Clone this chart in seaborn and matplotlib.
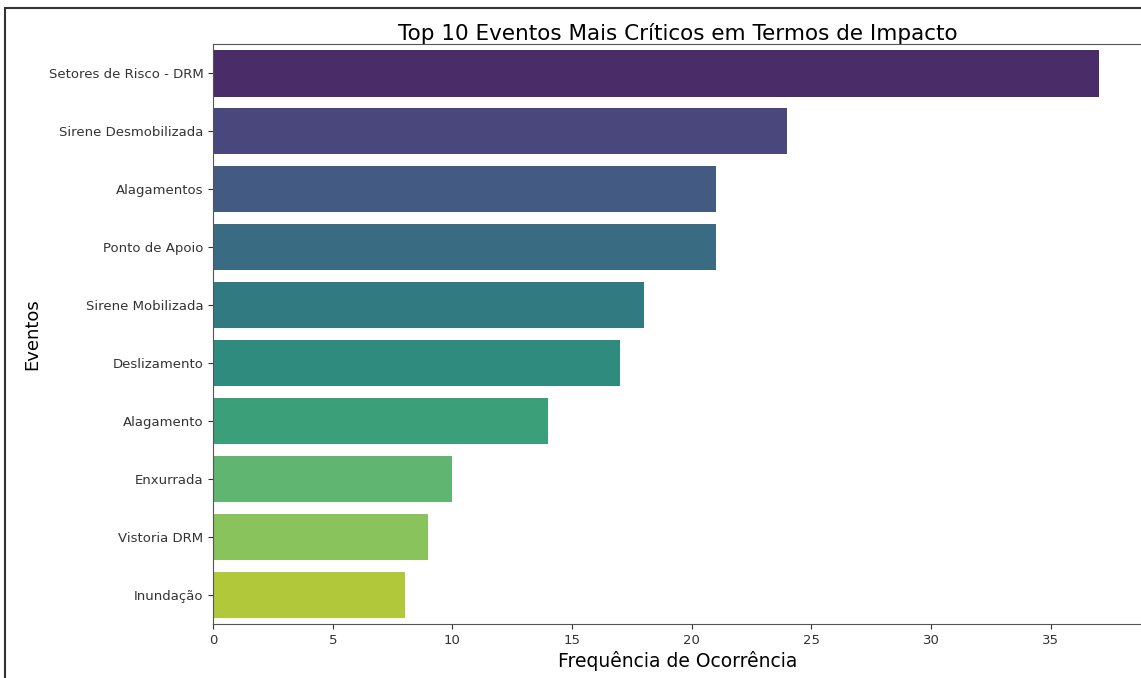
import matplotlib
matplotlib.use("Agg")
import matplotlib.pyplot as plt
import pandas as pd
import seaborn as sns
from matplotlib.patches import Rectangle

eventos = [
    "Setores de Risco - DRM",
    "Sirene Desmobilizada",
    "Alagamentos",
    "Ponto de Apoio",
    "Sirene Mobilizada",
    "Deslizamento",
    "Alagamento",
    "Enxurrada",
    "Vistoria DRM",
    "Inundação",
]
frequencias = [37, 24, 21, 21, 18, 17, 14, 10, 9, 8]

df = pd.DataFrame({"Eventos": eventos, "Frequencia": frequencias})

fig = plt.figure(figsize=(11.41, 6.78), dpi=100)
ax = fig.add_axes([0.1867, 0.0796, 0.815, 0.855])

sns.barplot(data=df, x="Frequencia", y="Eventos", hue="Eventos",
            palette="viridis", legend=False, ax=ax)

ax.set_xlim(0, 38.85)
ax.set_title("Top 10 Eventos Mais Críticos em Termos de Impacto",
             fontsize=15.5, pad=3)
ax.set_xlabel("Frequência de Ocorrência", fontsize=13.5, labelpad=3)
ax.set_ylabel("Eventos", fontsize=13)
ax.yaxis.set_label_coords(-0.185, 0.5)
ax.tick_params(axis="both", labelsize=9.5, colors="#333333")
for spine in ax.spines.values():
    spine.set_color("#555555")

# frame of the surrounding page
fig.patches.append(Rectangle((5 / 1141, -0.1), 1.2, 1 - 8 / 678 + 0.1,
                             transform=fig.transFigure, fill=False,
                             edgecolor="#333333", linewidth=1.5))

fig.savefig("out.png", dpi=100)
plt.close(fig)
